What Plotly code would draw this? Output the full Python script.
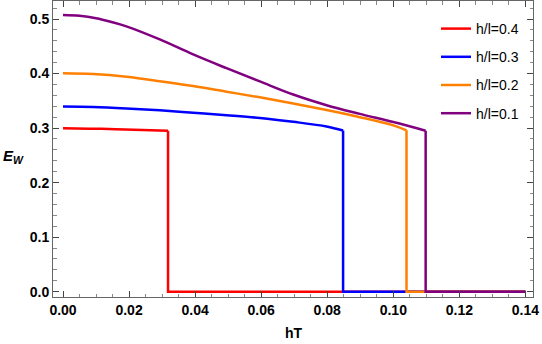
import plotly.graph_objects as go

# data (smooth part of each curve, up to its critical hT)
red_x = [0.0, 0.008, 0.016, 0.024, 0.0318]
red_y = [0.2995, 0.299, 0.298, 0.2965, 0.295]

blue_x = [0.0, 0.0091, 0.0192, 0.0293, 0.0394, 0.0495, 0.0596, 0.0697, 0.0798, 0.0848]
blue_y = [0.3395, 0.3386, 0.336, 0.3325, 0.328, 0.3235, 0.3185, 0.3115, 0.303, 0.2955]

orange_x = [0.0, 0.0091, 0.0192, 0.0293, 0.0394, 0.0495, 0.0596, 0.0697, 0.0798, 0.0899, 0.100, 0.1040]
orange_y = [0.4004, 0.399, 0.394, 0.386, 0.377, 0.3667, 0.3564, 0.345, 0.333, 0.320, 0.305, 0.2958]

purple_x = [0.0, 0.005, 0.010, 0.015, 0.0192, 0.0293, 0.0394, 0.0495, 0.0596, 0.0697, 0.0798, 0.0899, 0.100, 0.1098]
purple_y = [0.5075, 0.506, 0.5015, 0.494, 0.4865, 0.4625, 0.435, 0.4098, 0.3855, 0.3615, 0.342, 0.326, 0.311, 0.2952]

x_end = 0.14  # zero branch runs to the end of the hT range

names = ["h/l=0.4", "h/l=0.3", "h/l=0.2", "h/l=0.1"]
colors = ["#FF0000", "#0000FF", "#FF8000", "#800080"]
series = [(red_x, red_y), (blue_x, blue_y), (orange_x, orange_y), (purple_x, purple_y)]

x_ticks = [0.0, 0.02, 0.04, 0.06, 0.08, 0.10, 0.12, 0.14]
x_tick_labels = ["0.00", "0.02", "0.04", "0.06", "0.08", "0.10", "0.12", "0.14"]
y_ticks = [0.0, 0.1, 0.2, 0.3, 0.4, 0.5]
y_tick_labels = ["0.0", "0.1", "0.2", "0.3", "0.4", "0.5"]

FONT = "Liberation Sans, Arial, sans-serif"

fig = go.Figure()
for (xs, ys), n, c in zip(series, names, colors):
    fig.add_trace(go.Scatter(x=xs, y=ys, mode="lines", name=n, legendgroup=n,
                             line=dict(color=c, width=2.5, shape="spline", smoothing=1.0)))
    # vertical drop at the critical point followed by the zero branch
    fig.add_trace(go.Scatter(x=[xs[-1], xs[-1], x_end], y=[ys[-1], 0.0, 0.0], mode="lines",
                             name=n, legendgroup=n, showlegend=False,
                             line=dict(color=c, width=2.5)))

axis_common = dict(
    showgrid=False, zeroline=False, showline=True, mirror="ticks",
    linecolor="#666666", linewidth=1, ticks="inside", ticklen=6, tickwidth=1,
    tickcolor="#444444",
    tickfont=dict(family=FONT, size=14, color="black", weight="bold"),
)

fig.update_xaxes(range=[-0.00303, 0.1423], tickvals=x_ticks, ticktext=x_tick_labels,
                 minor=dict(dtick=0.005, ticklen=3.5, tickcolor="#888888", ticks="inside"),
                 **axis_common)
fig.update_yaxes(range=[-0.0097, 0.533], tickvals=y_ticks, ticktext=y_tick_labels,
                 minor=dict(dtick=0.02, ticklen=3.5, tickcolor="#888888", ticks="inside"),
                 **axis_common)

W, H = 542, 344
L, R, T, B = 53, 9, 1, 47
pw, ph = W - L - R, H - T - B

fig.add_annotation(xref="paper", yref="paper", x=(294 - L) / pw, y=-(333 - (H - B)) / ph,
                   text="<b>hT</b>", showarrow=False, xanchor="center", yanchor="middle",
                   font=dict(family=FONT, size=14, color="black"))
fig.add_annotation(xref="paper", yref="paper", x=(1 - L) / pw, y=((H - B) - 156) / ph,
                   text="<b><i>E</i></b><sub><b><i>W</i></b></sub>", showarrow=False,
                   xanchor="left", yanchor="middle",
                   font=dict(family=FONT, size=15, color="black"))

fig.update_layout(
    width=W, height=H, margin=dict(l=L, r=R, t=T, b=B),
    paper_bgcolor="white", plot_bgcolor="white",
    legend=dict(x=(436 - L) / pw, y=((H - B) - 13) / ph, xanchor="left", yanchor="top",
                bgcolor="rgba(0,0,0,0)", traceorder="grouped", tracegroupgap=7,
                font=dict(family=FONT, size=14, color="black"),
                itemwidth=30),
    showlegend=True,
)

fig.write_html("out.html")
